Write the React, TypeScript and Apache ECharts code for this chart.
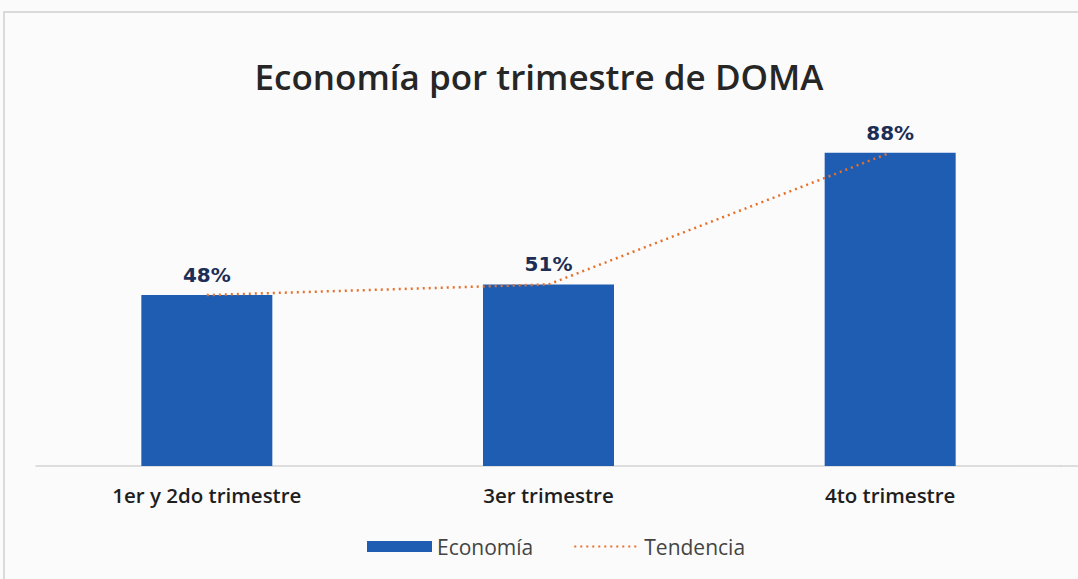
import React, { useEffect, useRef } from "react";
import * as echarts from "echarts";

const categories = ["1er y 2do trimestre", "3er trimestre", "4to trimestre"];
const economia = [48, 51, 88];
const tendencia = [48, 51, 88];
const titleText = "Economía por trimestre de DOMA";

export default function App() {
  const ref = useRef<HTMLDivElement>(null);
  useEffect(() => {
    const chart = echarts.init(ref.current!, null, { renderer: "svg" });
    chart.setOption({
      animation: false,
      backgroundColor: "#fbfbfb",
      title: {
        text: titleText,
        left: "center",
        top: 54,
        textStyle: { fontFamily: "Open Sans", fontSize: 35, fontWeight: 600, color: "#262626" },
      },
      graphic: [
        {
          type: "rect",
          shape: { x: 4, y: 12, width: 1090, height: 600 },
          style: { fill: "none", stroke: "#d0d0d0", lineWidth: 1.5 },
          silent: true,
        },
        {
          type: "line",
          shape: { x1: 1060, y1: 466, x2: 1078, y2: 466 },
          style: { stroke: "#d4d4d4", lineWidth: 1.5 },
          silent: true,
        },
      ],
      legend: {
        bottom: 17,
        left: 362,
        itemGap: 40,
        itemWidth: 65,
        itemHeight: 11,
        textStyle: { fontFamily: "Open Sans", fontSize: 21, color: "#444" },
        data: [
          { name: "Economía", icon: "rect" },
          { name: "Tendencia", itemStyle: { opacity: 0 } },
        ],
      },
      grid: { left: 36, right: 17, top: 110, bottom: 113 },
      xAxis: {
        type: "category",
        data: categories,
        axisLine: { show: true, lineStyle: { color: "#d4d4d4", width: 1.5 } },
        axisTick: { show: false },
        axisLabel: {
          margin: 18,
          fontFamily: "Open Sans",
          fontSize: 20.5,
          fontWeight: 600,
          color: "#1e1e1e",
        },
      },
      yAxis: {
        type: "value",
        min: 0,
        max: 100,
        show: false,
        splitLine: { show: false },
      },
      series: [
        {
          name: "Economía",
          type: "bar",
          data: economia,
          barWidth: 131,
          itemStyle: { color: "#1f5db3" },
          label: {
            show: true,
            position: "top",
            distance: 10,
            formatter: "{c}%",
            fontFamily: "Verdana, DejaVu Sans",
            fontSize: 20,
            fontWeight: "bold",
            color: "#1c2e55",
          },
        },
        {
          name: "Tendencia",
          type: "line",
          data: tendencia,
          symbol: "none",
          lineStyle: { type: [2, 4], width: 2.5, color: "#e8702b" },
          itemStyle: { color: "#e8702b" },
          z: 5,
        },
      ],
    });
    return () => chart.dispose();
  }, []);
  return (
    <div
      ref={ref}
      style={{ position: "fixed", left: 0, top: 0, width: 1078, height: 579 }}
    />
  );
}
